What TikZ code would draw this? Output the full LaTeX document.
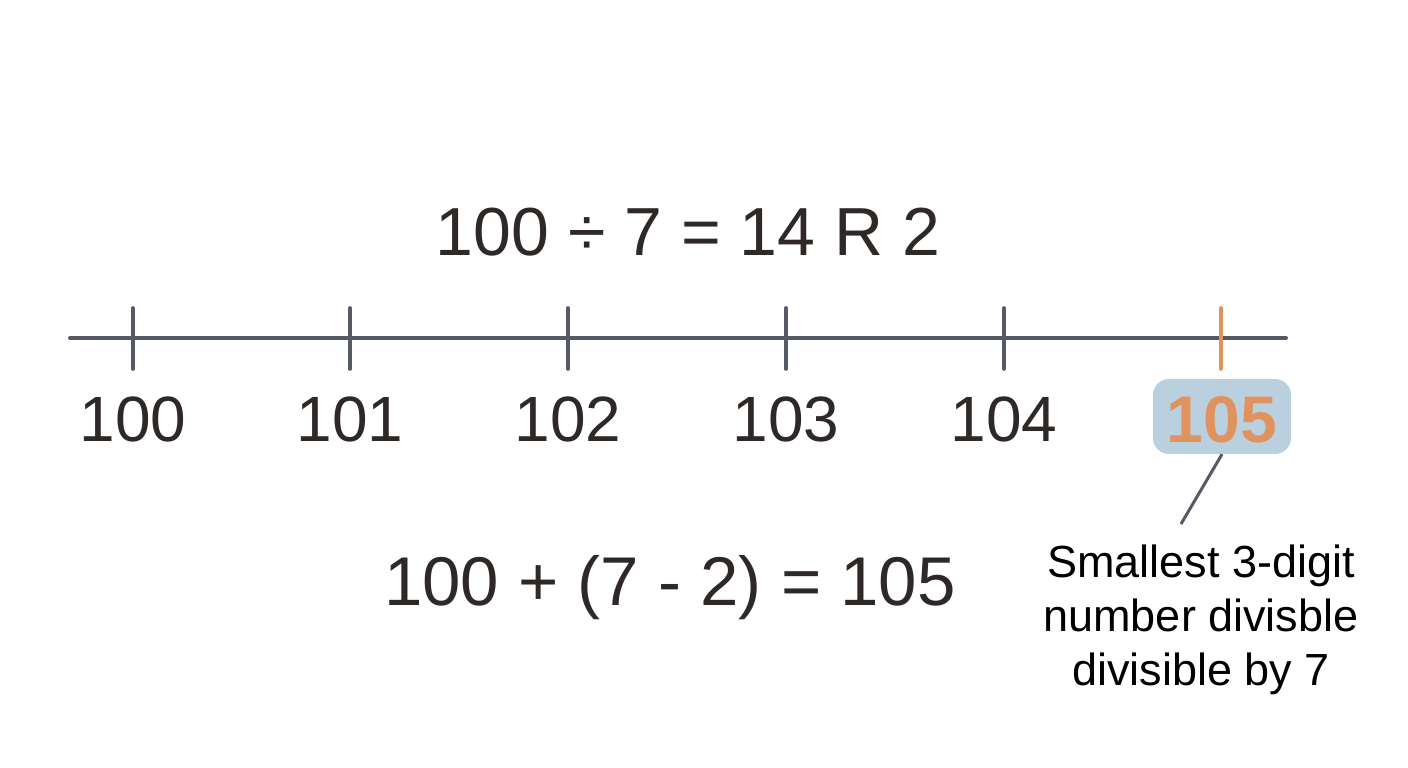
\documentclass[tikz,border=0pt]{standalone}
\usepackage{fontspec}
\setmainfont{Liberation Sans}
\definecolor{axisgrey}{HTML}{565A66}
\definecolor{textdark}{HTML}{2E2826}
\definecolor{accent}{HTML}{E0935E}
\definecolor{boxblue}{HTML}{BAD0DF}
\begin{document}
\begin{tikzpicture}[x=1pt,y=-1pt,
  axisline/.style={draw=axisgrey,line width=4pt,line cap=round},
  tickmark/.style={draw=axisgrey,line width=3.6pt,line cap=round},
  ticklabel/.style={anchor=base,text=textdark,font=\fontsize{64}{64}\selectfont,inner sep=0pt},
  eqtext/.style={anchor=base,text=textdark,font=\fontsize{68}{68}\selectfont,inner sep=0pt},
  notetext/.style={text=black,font=\fontsize{45}{54}\selectfont,align=center,inner sep=0pt}]
\useasboundingbox (0,0) rectangle (1408,768);
\fill[white] (0,0) rectangle (1408,768);
% equation top
\node[eqtext] (eqtop) at (688,255) {100 ÷ 7 = 14 R 2};
% axis
\coordinate (aL) at (70,338);
\coordinate (aR) at (1286,338);
\draw[axisline] (aL) -- (aR);
\foreach \x/\n in {133/100,350/101,568/102,786/103,1004/104}{
  \coordinate (t\n a) at (\x,308);
  \coordinate (t\n b) at (\x,369);
  \draw[tickmark] (t\n a) -- (t\n b);
  \node[ticklabel] (l\n) at (\x,441) {\n};
}
\coordinate (t105a) at (1221,308);
\coordinate (t105b) at (1221,369);
\draw[tickmark,draw=accent] (t105a) -- (t105b);
\node[fill=boxblue,rounded corners=16pt,minimum width=138pt,minimum height=75pt,inner sep=0pt] (box) at (1222,416.5) {};
\node[anchor=base,text=accent,font=\fontsize{66}{66}\selectfont\bfseries,inner sep=0pt] (l105) at (1222,442) {105};
% connector
\coordinate (cend) at (1181,524);
\draw[axisgrey,line width=3pt] (box.south) -- (cend);
% bottom equation
\node[eqtext,font=\fontsize{69}{69}\selectfont] (eqbot) at (670,605) {100 + (7 - 2) = 105};
% note
\node[notetext,anchor=base] (note) at (1201,685) {Smallest 3-digit\\number divisble\\divisible by 7};
\end{tikzpicture}
\end{document}
